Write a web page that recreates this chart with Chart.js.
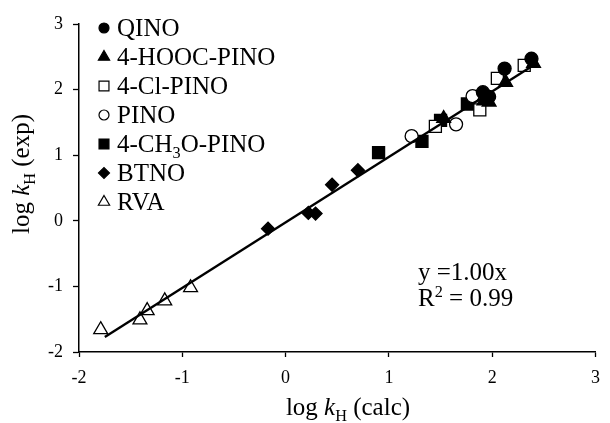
<!DOCTYPE html>
<html>
<head>
<meta charset="utf-8">
<script src="https://cdn.jsdelivr.net/npm/chart.js@4.4.0/dist/chart.umd.min.js"></script>
<style>
  html, body { margin: 0; padding: 0; background: #fff; }
</style>
</head>
<body>
<canvas id="grafico" width="610" height="423"></canvas>
<script>
/* ===================== DATOS ===================== */
const qinoX = [1.91, 1.97, 2.12, 2.38];
const qinoY = [1.96, 1.89, 2.32, 2.47];

const hoocX = [1.53, 1.92, 1.97, 2.13, 2.40];
const hoocY = [1.56, 1.83, 1.81, 2.11, 2.40];

const clX = [1.45, 1.88, 2.05, 2.31];
const clY = [1.44, 1.69, 2.17, 2.37];

const pinoX = [1.22, 1.65, 1.81];
const pinoY = [1.29, 1.47, 1.90];

const ch3oX = [0.90, 1.32, 1.50, 1.76];
const ch3oY = [1.04, 1.21, 1.53, 1.78];

const btnoX = [-0.17, 0.22, 0.29, 0.45, 0.70];
const btnoY = [-0.12, 0.12, 0.11, 0.55, 0.77];

const rvaX = [-1.79, -1.41, -1.34, -1.17, -0.92];
const rvaY = [-1.66, -1.51, -1.37, -1.22, -1.02];

const ajusteX = [-1.75, 2.43];
const ajusteY = [-1.77, 2.40];

const etiquetas = ["QINO", "4-HOOC-PINO", "4-Cl-PINO", "PINO", "4-CH3O-PINO", "BTNO", "RVA"];

/* ===================== ESTILOS ===================== */
const FUENTE = "'Liberation Serif', 'Times New Roman', serif";
Chart.defaults.font.family = FUENTE;
Chart.defaults.color = "#000";

const pares = (xs, ys) => xs.map((x, i) => ({ x: x, y: ys[i] }));

function serie(label, xs, ys, estilo, radio, relleno) {
  return {
    type: "scatter",
    label: label,
    data: pares(xs, ys),
    pointStyle: estilo,
    pointRadius: radio,
    pointHoverRadius: radio,
    pointBackgroundColor: relleno ? "#000" : "#fff",
    pointBorderColor: "#000",
    pointBorderWidth: 1.3,
  };
}

// marcadores de la leyenda (estilo, radio, relleno)
const marcasLeyenda = [
  ["circle", 5, true],
  ["triangle", 6.5, true],
  ["rect", 7, false],
  ["circle", 5, false],
  ["rect", 7, true],
  ["rectRot", 5.5, true],
  ["triangle", 6.5, false],
];

/* ===================== TEXTO CON SUB/SUPERINDICE ===================== */
function anchoPartes(ctx, partes, size) {
  let w = 0;
  partes.forEach((p) => {
    const s = p[1] === "sub" || p[1] === "sup" ? size * 0.65 : size;
    ctx.font = (p[1] === "i" ? "italic " : "") + s + "px " + FUENTE;
    w += ctx.measureText(p[0]).width;
  });
  return w;
}

function textoRico(ctx, partes, x, y, size, align) {
  let cx = align === "center" ? x - anchoPartes(ctx, partes, size) / 2 : x;
  ctx.textBaseline = "alphabetic";
  ctx.textAlign = "left";
  partes.forEach((p) => {
    let s = size, dy = 0;
    if (p[1] === "sub") { s = size * 0.65; dy = size * 0.22; }
    if (p[1] === "sup") { s = size * 0.65; dy = -size * 0.38; }
    ctx.font = (p[1] === "i" ? "italic " : "") + s + "px " + FUENTE;
    ctx.fillText(p[0], cx, y + dy);
    cx += ctx.measureText(p[0]).width;
  });
}

/* ===================== PLUGIN DE ANOTACIONES ===================== */
const anotaciones = {
  id: "anotaciones",
  afterDraw(chart) {
    const ctx = chart.ctx;
    ctx.save();
    ctx.fillStyle = "#000";

    // leyenda
    etiquetas.forEach((et, i) => {
      const y = 28 + i * 29;
      const m = marcasLeyenda[i];
      ctx.fillStyle = m[2] ? "#000" : "#fff";
      ctx.strokeStyle = "#000";
      ctx.lineWidth = 1.2;
      Chart.helpers.drawPoint(ctx, { pointStyle: m[0], radius: m[1], rotation: 0, borderWidth: 1.2 }, 104, y);
      ctx.fillStyle = "#000";
      const partes = et === "4-CH3O-PINO"
        ? [["4-CH", ""], ["3", "sub"], ["O-PINO", ""]]
        : [[et, ""]];
      textoRico(ctx, partes, 117, y + 8, 25, "left");
    });

    // ecuacion
    textoRico(ctx, [["y =1.00x", ""]], 418, 280, 25, "left");
    textoRico(ctx, [["R", ""], ["2", "sup"], [" = 0.99", ""]], 418, 306, 25, "left");

    // titulo eje x
    textoRico(ctx, [["log ", ""], ["k", "i"], ["H", "sub"], [" (calc)", ""]], 348, 415, 25, "center");

    // titulo eje y
    ctx.translate(29, 174);
    ctx.rotate(-Math.PI / 2);
    textoRico(ctx, [["log ", ""], ["k", "i"], ["H", "sub"], [" (exp)", ""]], 0, 0, 25, "center");

    ctx.restore();
  },
};

/* ===================== GRAFICO ===================== */
new Chart(document.getElementById("grafico"), {
  data: {
    datasets: [
      {
        type: "line",
        label: "ajuste",
        data: pares(ajusteX, ajusteY),
        borderColor: "#000",
        borderWidth: 2.4,
        pointRadius: 0,
        fill: false,
        order: 0,
      },
      { ...serie(etiquetas[0], qinoX, qinoY, "circle", 6.5, true), order: 1 },
      { ...serie(etiquetas[1], hoocX, hoocY, "triangle", 8, true), order: 2 },
      { ...serie(etiquetas[2], clX, clY, "rect", 8.5, false), order: 3 },
      { ...serie(etiquetas[3], pinoX, pinoY, "circle", 6.5, false), order: 4 },
      { ...serie(etiquetas[4], ch3oX, ch3oY, "rect", 8.5, true), order: 5 },
      { ...serie(etiquetas[5], btnoX, btnoY, "rectRot", 6.5, true), order: 6 },
      { ...serie(etiquetas[6], rvaX, rvaY, "triangle", 8, false), order: 7 },
    ],
  },
  plugins: [anotaciones],
  options: {
    responsive: false,
    animation: false,
    devicePixelRatio: 1,
    layout: { padding: { top: 24, right: 5, left: 0, bottom: 0 } },
    plugins: {
      legend: { display: false },
      tooltip: { enabled: false },
    },
    scales: {
      x: {
        type: "linear",
        min: -2,
        max: 3,
        ticks: { stepSize: 1, font: { size: 18 }, color: "#000", padding: 10 },
        grid: { drawOnChartArea: false, tickLength: 5, tickColor: "#000", tickWidth: 1.3 },
        border: { display: true, color: "#000", width: 1.5 },
        afterFit: (s) => { s.height = 71; },
      },
      y: {
        type: "linear",
        min: -2,
        max: 3,
        ticks: { stepSize: 1, font: { size: 18 }, color: "#000", padding: 10 },
        grid: { drawOnChartArea: false, tickLength: 6, tickColor: "#000", tickWidth: 1.3 },
        border: { display: true, color: "#000", width: 1.5 },
        afterFit: (s) => { s.width = 79; },
      },
    },
  },
});
</script>
</body>
</html>
